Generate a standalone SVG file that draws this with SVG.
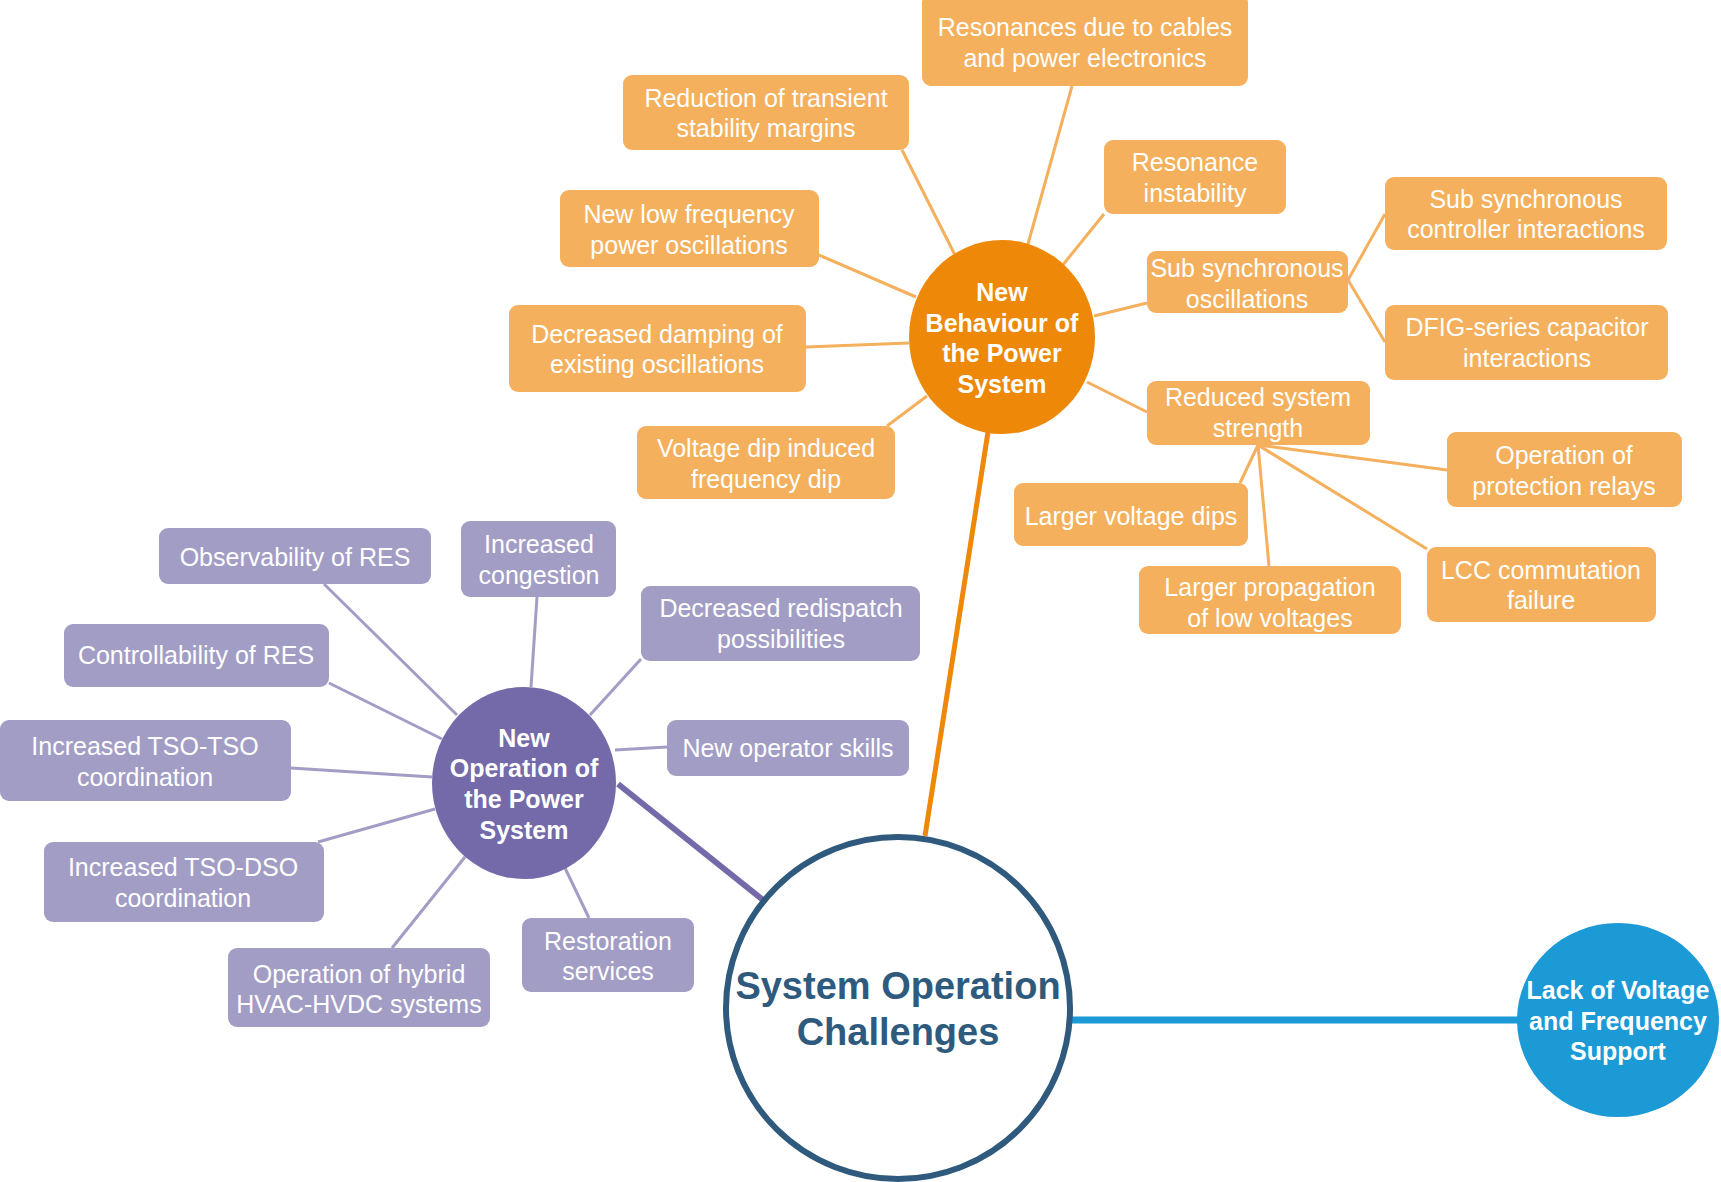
<svg xmlns="http://www.w3.org/2000/svg" width="1721" height="1182" viewBox="0 0 1721 1182">
  <style>
    .bg { fill: #ffffff; }
    .obox { fill: #F4B05C; }
    .pbox { fill: #A29DC5; }
    .t { font-family: "Liberation Sans", Arial, sans-serif; font-size: 25px; fill: #ffffff; text-anchor: middle; }
    .hub { font-family: "Liberation Sans", Arial, sans-serif; font-size: 25px; font-weight: bold; fill: #ffffff; text-anchor: middle; }
    .core { font-family: "Liberation Sans", Arial, sans-serif; font-size: 38px; font-weight: bold; fill: #2E5A7D; text-anchor: middle; }
    .ol { stroke: #F4B05C; stroke-width: 3; fill: none; }
    .pl { stroke: #A29DC5; stroke-width: 3; fill: none; }
  </style>
  <rect class="bg" x="0" y="0" width="1721" height="1182"/>

  <g id="connectors">
    <!-- main branches -->
    <line x1="988" y1="432" x2="925" y2="836" stroke="#EE8808" stroke-width="5"/>
    <line x1="618" y1="784" x2="763" y2="900" stroke="#7469A9" stroke-width="6"/>
    <line x1="1072" y1="1020" x2="1518" y2="1020" stroke="#1B9AD6" stroke-width="7"/>
    <!-- behaviour branch -->
    <line class="ol" x1="1072" y1="86" x2="1028" y2="244"/>
    <line class="ol" x1="902" y1="150" x2="955" y2="255"/>
    <line class="ol" x1="1104" y1="214" x2="1062" y2="266"/>
    <line class="ol" x1="819" y1="255" x2="916" y2="297"/>
    <line class="ol" x1="1147" y1="303" x2="1094" y2="316"/>
    <line class="ol" x1="806" y1="347" x2="909" y2="343"/>
    <line class="ol" x1="1147" y1="412" x2="1087" y2="382"/>
    <line class="ol" x1="887" y1="426" x2="927" y2="396"/>
    <line class="ol" x1="1348" y1="280" x2="1385" y2="214"/>
    <line class="ol" x1="1348" y1="280" x2="1385" y2="342"/>
    <line class="ol" x1="1258" y1="445" x2="1447" y2="470"/>
    <line class="ol" x1="1258" y1="445" x2="1427" y2="549"/>
    <line class="ol" x1="1258" y1="445" x2="1269" y2="566"/>
    <line class="ol" x1="1258" y1="445" x2="1240" y2="483"/>
    <!-- operation branch -->
    <line class="pl" x1="324" y1="584" x2="457" y2="715"/>
    <line class="pl" x1="537" y1="597" x2="531" y2="687"/>
    <line class="pl" x1="641" y1="659" x2="590" y2="715"/>
    <line class="pl" x1="329" y1="683" x2="442" y2="739"/>
    <line class="pl" x1="291" y1="768" x2="432" y2="777"/>
    <line class="pl" x1="667" y1="747" x2="615" y2="750"/>
    <line class="pl" x1="318" y1="842" x2="435" y2="809"/>
    <line class="pl" x1="392" y1="948" x2="465" y2="857"/>
    <line class="pl" x1="589" y1="918" x2="565" y2="868"/>
  </g>

  <!-- core and hubs -->
  <g id="core">
    <ellipse cx="898" cy="1008" rx="172" ry="171" fill="#ffffff" stroke="#2F5A7D" stroke-width="6"/>
    <text class="core" x="898" y="999">System Operation</text>
    <text class="core" x="898" y="1045">Challenges</text>
  </g>
  <g id="lack-support">
    <ellipse cx="1618" cy="1020" rx="101" ry="97" fill="#1B9AD6"/>
    <text class="hub" x="1618" y="999">Lack of Voltage</text>
    <text class="hub" x="1618" y="1030">and Frequency</text>
    <text class="hub" x="1618" y="1060">Support</text>
  </g>
  <g id="new-behaviour">
    <ellipse cx="1002" cy="337" rx="93" ry="97" fill="#EE8808"/>
    <text class="hub" x="1002" y="301">New</text>
    <text class="hub" x="1002" y="332">Behaviour of</text>
    <text class="hub" x="1002" y="362">the Power</text>
    <text class="hub" x="1002" y="393">System</text>
  </g>
  <g id="new-operation">
    <ellipse cx="524" cy="783" rx="92" ry="96" fill="#7469A9"/>
    <text class="hub" x="524" y="747">New</text>
    <text class="hub" x="524" y="777">Operation of</text>
    <text class="hub" x="524" y="808">the Power</text>
    <text class="hub" x="524" y="839">System</text>
  </g>

  <!-- behaviour items -->
  <g id="resonances-cables"><rect class="obox" x="922" y="-6" width="326" height="92" rx="9"/>
    <text class="t" x="1085" y="36">Resonances due to cables</text><text class="t" x="1085" y="67">and power electronics</text></g>
  <g id="transient-margins"><rect class="obox" x="623" y="75" width="286" height="75" rx="9"/>
    <text class="t" x="766" y="107">Reduction of transient</text><text class="t" x="766" y="137">stability margins</text></g>
  <g id="resonance-instability"><rect class="obox" x="1104" y="140" width="182" height="74" rx="9"/>
    <text class="t" x="1195" y="171">Resonance</text><text class="t" x="1195" y="202">instability</text></g>
  <g id="low-freq-oscillations"><rect class="obox" x="560" y="190" width="259" height="77" rx="9"/>
    <text class="t" x="689" y="223">New low frequency</text><text class="t" x="689" y="254">power oscillations</text></g>
  <g id="subsync-controller"><rect class="obox" x="1385" y="177" width="282" height="73" rx="9"/>
    <text class="t" x="1526" y="208">Sub synchronous</text><text class="t" x="1526" y="238">controller interactions</text></g>
  <g id="subsync-oscillations"><rect class="obox" x="1147" y="251" width="201" height="62" rx="9"/>
    <text class="t" x="1247" y="277">Sub synchronous</text><text class="t" x="1247" y="308">oscillations</text></g>
  <g id="dfig-capacitor"><rect class="obox" x="1385" y="305" width="283" height="75" rx="9"/>
    <text class="t" x="1527" y="336">DFIG-series capacitor</text><text class="t" x="1527" y="367">interactions</text></g>
  <g id="decreased-damping"><rect class="obox" x="509" y="305" width="297" height="87" rx="9"/>
    <text class="t" x="657" y="343">Decreased damping of</text><text class="t" x="657" y="373">existing oscillations</text></g>
  <g id="reduced-strength"><rect class="obox" x="1147" y="381" width="223" height="64" rx="9"/>
    <text class="t" x="1258" y="406">Reduced system</text><text class="t" x="1258" y="437">strength</text></g>
  <g id="voltage-dip-freq"><rect class="obox" x="637" y="426" width="258" height="73" rx="9"/>
    <text class="t" x="766" y="457">Voltage dip induced</text><text class="t" x="766" y="488">frequency dip</text></g>
  <g id="protection-relays"><rect class="obox" x="1447" y="432" width="235" height="75" rx="9"/>
    <text class="t" x="1564" y="464">Operation of</text><text class="t" x="1564" y="495">protection relays</text></g>
  <g id="larger-dips"><rect class="obox" x="1014" y="483" width="234" height="63" rx="9"/>
    <text class="t" x="1131" y="525">Larger voltage dips</text></g>
  <g id="larger-propagation"><rect class="obox" x="1139" y="566" width="262" height="68" rx="9"/>
    <text class="t" x="1270" y="596">Larger propagation</text><text class="t" x="1270" y="627">of low voltages</text></g>
  <g id="lcc-failure"><rect class="obox" x="1427" y="547" width="229" height="75" rx="9"/>
    <text class="t" x="1541" y="579">LCC commutation</text><text class="t" x="1541" y="609">failure</text></g>

  <!-- operation items -->
  <g id="observability"><rect class="pbox" x="159" y="528" width="272" height="56" rx="9"/>
    <text class="t" x="295" y="566">Observability of RES</text></g>
  <g id="congestion"><rect class="pbox" x="461" y="521" width="155" height="76" rx="9"/>
    <text class="t" x="539" y="553">Increased</text><text class="t" x="539" y="584">congestion</text></g>
  <g id="redispatch"><rect class="pbox" x="641" y="586" width="279" height="75" rx="9"/>
    <text class="t" x="781" y="617">Decreased redispatch</text><text class="t" x="781" y="648">possibilities</text></g>
  <g id="controllability"><rect class="pbox" x="64" y="624" width="265" height="63" rx="9"/>
    <text class="t" x="196" y="664">Controllability of RES</text></g>
  <g id="tso-tso"><rect class="pbox" x="0" y="720" width="291" height="81" rx="9"/>
    <text class="t" x="145" y="755">Increased TSO-TSO</text><text class="t" x="145" y="786">coordination</text></g>
  <g id="operator-skills"><rect class="pbox" x="667" y="720" width="242" height="56" rx="9"/>
    <text class="t" x="788" y="757">New operator skills</text></g>
  <g id="tso-dso"><rect class="pbox" x="44" y="842" width="280" height="80" rx="9"/>
    <text class="t" x="183" y="876">Increased TSO-DSO</text><text class="t" x="183" y="907">coordination</text></g>
  <g id="restoration"><rect class="pbox" x="522" y="918" width="172" height="74" rx="9"/>
    <text class="t" x="608" y="950">Restoration</text><text class="t" x="608" y="980">services</text></g>
  <g id="hybrid-systems"><rect class="pbox" x="228" y="948" width="262" height="79" rx="9"/>
    <text class="t" x="359" y="983">Operation of hybrid</text><text class="t" x="359" y="1013">HVAC-HVDC systems</text></g>
</svg>
